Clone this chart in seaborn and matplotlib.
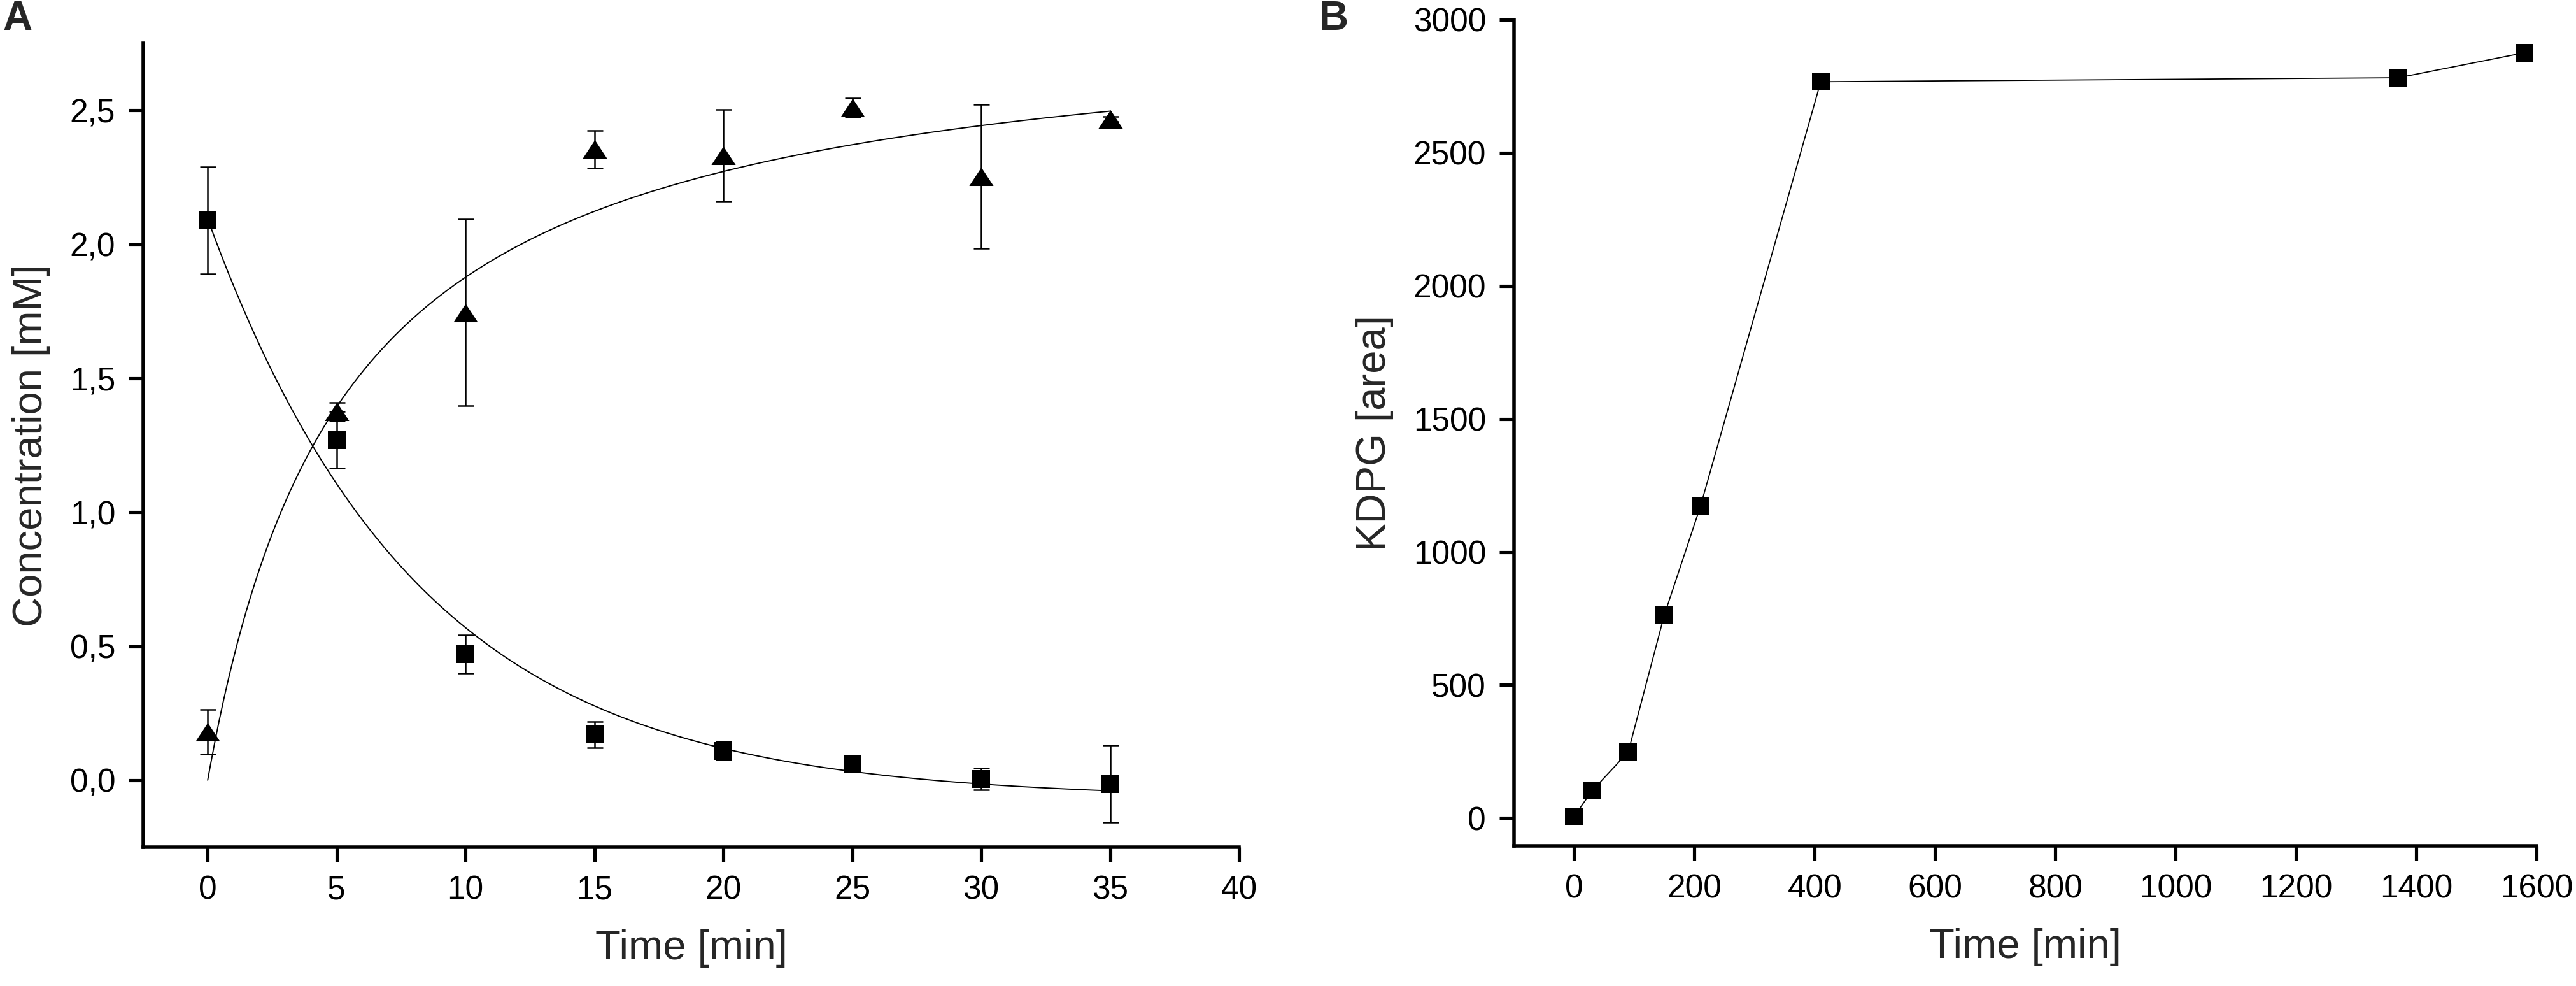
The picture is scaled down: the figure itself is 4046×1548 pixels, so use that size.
#!/usr/bin/env python

import numpy as np
import pandas as pd
import seaborn as sns
from matplotlib import pyplot as plt
from matplotlib.ticker import FuncFormatter, MultipleLocator

# panel A: substrate (squares) and product (triangles), mean +/- sd
time_min = [0, 5, 10, 15, 20, 25, 30, 35]
substrate = [2.09, 1.27, 0.47, 0.17, 0.11, 0.06, 0.005, -0.014]
substrate_err = [0.20, 0.105, 0.072, 0.048, 0.035, 0.02, 0.04, 0.144]
product = [0.18, 1.375, 1.745, 2.355, 2.332, 2.51, 2.253, 2.468]
product_err = [0.084, 0.035, 0.348, 0.07, 0.171, 0.035, 0.268, 0.01]

# fitted curves
decay_amp, decay_rate, decay_offset = 2.165, 0.122, -0.07
hyp_max, hyp_half = 2.877, 5.326

# panel B: KDPG formation
kdpg_time = [0, 30, 90, 150, 210, 410, 1370, 1580]
kdpg_area = [6, 103, 248, 763, 1171, 2767, 2782, 2876]

sns.set_style("ticks")
plt.rcParams['font.family'] = ['Liberation Sans', 'DejaVu Sans']

tick_fs = 37
label_fs = 47

fig = plt.figure(figsize=(40.46, 15.48), dpi=100)
ax1 = fig.add_axes([0.0556, 0.1408, 0.4254, 0.8152])
ax2 = fig.add_axes([0.5877, 0.142, 0.397, 0.838])

# --- A ---
t_fit = np.linspace(0, 35, 400)
fit = pd.DataFrame({
    "t": t_fit,
    "decay": decay_amp * np.exp(-decay_rate * t_fit) + decay_offset,
    "rise": hyp_max * t_fit / (hyp_half + t_fit),
})
sns.lineplot(data=fit, x="t", y="decay", color="black", linewidth=1.4, ax=ax1)
sns.lineplot(data=fit, x="t", y="rise", color="black", linewidth=1.4, ax=ax1)

ax1.errorbar(time_min, substrate, yerr=substrate_err, fmt="none", ecolor="black",
             elinewidth=1.8, capsize=9, capthick=1.8)
ax1.errorbar(time_min, product, yerr=product_err, fmt="none", ecolor="black",
             elinewidth=1.8, capsize=9, capthick=1.8)

tri = [(-1, -0.76), (1, -0.76), (0, 0.76)]
sns.scatterplot(x=time_min, y=substrate, marker="s", s=20.5 ** 2, color="black",
                edgecolor="black", linewidth=0, zorder=5, ax=ax1)
sns.scatterplot(x=time_min, y=product, marker=tri, s=27.5 ** 2, color="black",
                edgecolor="black", linewidth=0, zorder=5, ax=ax1)

ax1.set_xlim(-2.5, 40)
ax1.set_ylim(-0.25, 2.75)
ax1.xaxis.set_major_locator(MultipleLocator(5))
ax1.yaxis.set_major_locator(MultipleLocator(0.5))
ax1.yaxis.set_major_formatter(FuncFormatter(lambda v, p: f"{v:.1f}".replace(".", ",")))
ax1.set_xlabel("Time [min]", fontsize=label_fs, labelpad=26)
ax1.set_ylabel("Concentration [mM]", fontsize=label_fs, labelpad=22)

# --- B ---
sns.lineplot(x=kdpg_time, y=kdpg_area, color="black", linewidth=1.3, marker="s",
             markersize=20.5, markeredgecolor="black", markeredgewidth=0, ax=ax2)
ax2.set_xlim(-100, 1600)
ax2.set_ylim(-105, 3000)
ax2.xaxis.set_major_locator(MultipleLocator(200))
ax2.yaxis.set_major_locator(MultipleLocator(500))
ax2.set_xlabel("Time [min]", fontsize=label_fs, labelpad=26)
ax2.set_ylabel("KDPG [area]", fontsize=label_fs, labelpad=22)

for ax in (ax1, ax2):
    sns.despine(ax=ax)
    for s in ("left", "bottom"):
        ax.spines[s].set_linewidth(4)
        ax.spines[s].set_color("black")
    ax.tick_params(direction="out", length=16.5, width=3.7, pad=15,
                   labelsize=tick_fs, colors="black")
    ax.set_facecolor("white")

fig.text(0.001, 1.0, "A", fontsize=46, fontweight="bold", ha="left", va="top")
fig.text(0.512, 1.0, "B", fontsize=46, fontweight="bold", ha="left", va="top")

plt.savefig("out.png", dpi=100, facecolor="white")
plt.close(fig)
